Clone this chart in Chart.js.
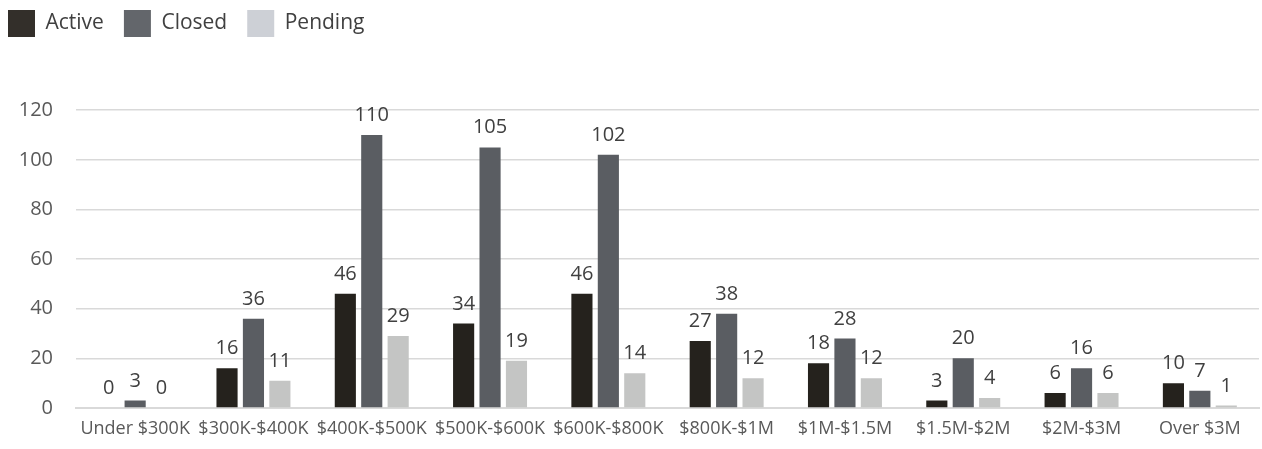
<!DOCTYPE html>
<html lang="en">
<head>
    <meta charset="UTF-8">
    <title>Listings by price range</title>
    <style>
        body { margin: 0; background: #fff; }
        .wrap { width: 1262px; height: 449px; }
    </style>
</head>
<body>
    <div class="wrap">
        <canvas id="bar-chart"></canvas>
    </div>

    <script src="https://cdn.jsdelivr.net/npm/chart.js"></script>
    <script>
        var priceRanges = ["Under $300K", "$300K-$400K", "$400K-$500K", "$500K-$600K", "$600K-$800K",
                           "$800K-$1M", "$1M-$1.5M", "$1.5M-$2M", "$2M-$3M", "Over $3M"];
        var activeCounts  = [0, 16, 46, 34, 46, 27, 18, 3, 6, 10];
        var closedCounts  = [3, 36, 110, 105, 102, 38, 28, 20, 16, 7];
        var pendingCounts = [0, 11, 29, 19, 14, 12, 12, 4, 6, 1];
        var yTicks = [0, 20, 40, 60, 80, 100, 120];

        var fontName = "'Open Sans', sans-serif";

        // value labels over each bar
        const valueLabels = {
            id: 'valueLabels',
            afterDatasetsDraw(chart) {
                const ctx = chart.ctx;
                ctx.save();
                ctx.font = "20px " + fontName;
                ctx.fillStyle = "#404040";
                ctx.textAlign = "center";
                ctx.textBaseline = "alphabetic";
                chart.data.datasets.forEach((ds, i) => {
                    chart.getDatasetMeta(i).data.forEach((bar, j) => {
                        ctx.fillText(ds.data[j], bar.x, bar.y - 14);
                    });
                });
                ctx.restore();
            }
        };

        const barChart = new Chart(document.getElementById("bar-chart"), {
            type: 'bar',
            data: {
                labels: priceRanges,
                datasets: [
                    { label: "Active",  data: activeCounts,  backgroundColor: "#25221d" },
                    { label: "Closed",  data: closedCounts,  backgroundColor: "#5a5d62" },
                    { label: "Pending", data: pendingCounts, backgroundColor: "#c4c5c4" }
                ]
            },
            options: {
                responsive: true,
                maintainAspectRatio: false,
                animation: false,
                categoryPercentage: 0.67,
                barPercentage: 0.8,
                layout: { padding: { left: -12, right: 3, top: -10, bottom: 0 } },
                plugins: {
                    tooltip: { enabled: false },
                    // empty title used as a spacer between legend and plot
                    title: {
                        display: true,
                        text: '',
                        weight: 500,
                        font: { size: 1 },
                        padding: { top: 0, bottom: 62 }
                    },
                    legend: {
                        position: 'top',
                        align: 'start',
                        labels: {
                            boxWidth: 27,
                            boxHeight: 27,
                            padding: 20,
                            color: "#404040",
                            font: { family: fontName, size: 21 },
                            generateLabels(chart) {
                                var legendColors = ["#332f2a", "#63666b", "#cdd0d6"];
                                return chart.data.datasets.map((ds, i) => ({
                                    text: ds.label,
                                    fillStyle: legendColors[i],
                                    strokeStyle: legendColors[i],
                                    lineWidth: 0,
                                    fontColor: "#404040",
                                    datasetIndex: i
                                }));
                            }
                        }
                    }
                },
                scales: {
                    x: {
                        grid: { display: false },
                        border: { color: "#d9d9d9", width: 2 },
                        afterFit(scale) {
                            scale.height = 41;
                        },
                        ticks: {
                            color: "#595959",
                            font: { family: fontName, size: 18 },
                            autoSkip: false,
                            maxRotation: 0,
                            padding: 2
                        }
                    },
                    y: {
                        min: 0,
                        max: 120,
                        afterBuildTicks(scale) {
                            scale.ticks = yTicks.map(v => ({ value: v }));
                        },
                        afterFit(scale) {
                            scale.width = 88;
                        },
                        border: { display: false },
                        grid: { color: "#d9d9d9", lineWidth: 1.5, drawTicks: false },
                        ticks: {
                            color: "#595959",
                            font: { family: fontName, size: 20 },
                            padding: 23
                        }
                    }
                }
            },
            plugins: [valueLabels]
        });
    </script>
</body>
</html>
